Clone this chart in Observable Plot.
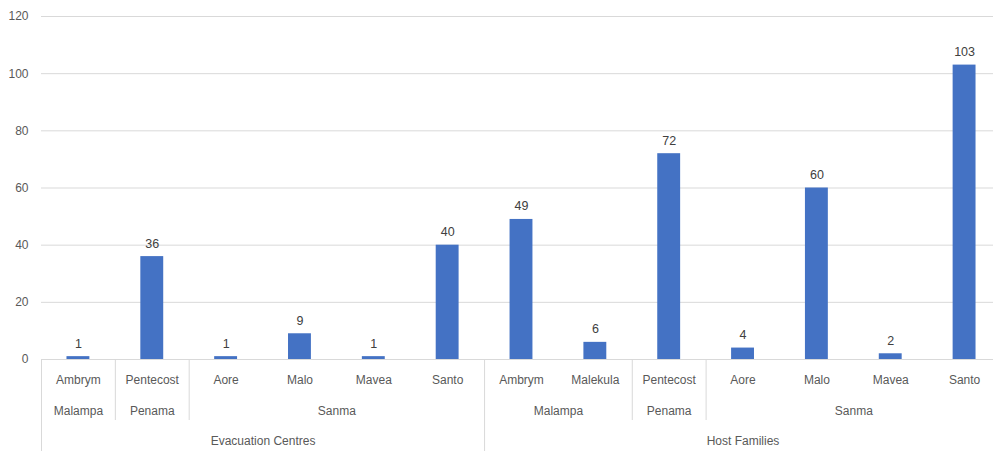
<!DOCTYPE html>
<html>
<head>
<meta charset="utf-8">
<script src="https://cdn.jsdelivr.net/npm/d3@7"></script>
<script src="https://cdn.jsdelivr.net/npm/@observablehq/plot@0.6"></script>
<style>
  html, body { margin: 0; padding: 0; background: #fff; overflow: hidden; }
  #chart { width: 993px; height: 451px; overflow: hidden; }
  svg { overflow: visible; }
</style>
</head>
<body>
<div id="chart"></div>
<script>
// Data
const sites = ["Ambrym", "Pentecost", "Aore", "Malo", "Mavea", "Santo",
               "Ambrym", "Malekula", "Pentecost", "Aore", "Malo", "Mavea", "Santo"];
const provinces = ["Malampa", "Penama", "Sanma", "Sanma", "Sanma", "Sanma",
                   "Malampa", "Malampa", "Penama", "Sanma", "Sanma", "Sanma", "Sanma"];
const shelterTypes = ["Evacuation Centres", "Evacuation Centres", "Evacuation Centres", "Evacuation Centres", "Evacuation Centres", "Evacuation Centres",
                      "Host Families", "Host Families", "Host Families", "Host Families", "Host Families", "Host Families", "Host Families"];
const values = [1, 36, 1, 9, 1, 40, 49, 6, 72, 4, 60, 2, 103];
const yTicks = [0, 20, 40, 60, 80, 100, 120];

const rows = values.map((v, i) => ({i, site: sites[i], province: provinces[i], type: shelterTypes[i], value: v}));

// group spans
function spans(keyFn) {
  const out = [];
  rows.forEach((r, i) => {
    const k = keyFn(r);
    const last = out[out.length - 1];
    if (last && last.key === k) last.end = i + 1;
    else out.push({key: k, label: k.split("|").pop(), start: i, end: i + 1});
  });
  return out;
}
const provSpans = spans(r => r.type + "|" + r.province);
const typeSpans = spans(r => r.type);

const provBounds = provSpans.map(s => s.start);
const typeBounds = typeSpans.map(s => s.start);
const innerProvBounds = provBounds.filter(b => !typeBounds.includes(b));

const halfBar = 0.155;
const font = "'Liberation Sans Narrow', 'Liberation Sans', Arial, sans-serif";

const chart = Plot.plot({
  width: 993,
  height: 451,
  marginLeft: 41,
  marginRight: -8,
  marginTop: 16,
  marginBottom: 92,
  style: {fontFamily: font, fontSize: "12px", color: "#595959", background: "transparent", overflow: "visible"},
  x: {type: "linear", domain: [0, values.length], axis: null},
  y: {domain: [0, 120], ticks: yTicks, axis: null},
  marks: [
    Plot.gridY(yTicks.filter(t => t > 0), {stroke: "#d9d9d9", strokeOpacity: 1, strokeWidth: 1}),
    Plot.axisY(yTicks, {tickSize: 0, tickPadding: 13, fill: "#595959", fontSize: 12, label: null}),
    Plot.rectY(rows, {x1: d => d.i + 0.5 - halfBar, x2: d => d.i + 0.5 + halfBar, y: "value", fill: "#4472C4"}),
    Plot.text(rows, {x: d => d.i + 0.5, y: "value", text: d => String(d.value), dy: -13, fill: "#404040", fontSize: 12.5}),
    Plot.ruleY([0], {stroke: "#d9d9d9", strokeWidth: 1}),
    // level 1 labels
    Plot.text(rows, {x: d => d.i + 0.5, y: 0, text: "site", dy: 21, fill: "#595959", fontSize: 12}),
    // level 2 labels
    Plot.text(provSpans, {x: d => (d.start + d.end) / 2, y: 0, text: "label", dy: 52, fill: "#595959", fontSize: 12}),
    // level 3 labels
    Plot.text(typeSpans, {x: d => (d.start + d.end) / 2, y: 0, text: "label", dy: 82, fill: "#595959", fontSize: 12}),
    // separators
    Plot.ruleX(innerProvBounds, {y1: 0, y2: 0, insetBottom: -61, stroke: "#d9d9d9"}),
    Plot.ruleX(typeBounds, {y1: 0, y2: 0, insetBottom: -92, stroke: "#d9d9d9"})
  ]
});
document.getElementById("chart").appendChild(chart);
</script>
</body>
</html>
